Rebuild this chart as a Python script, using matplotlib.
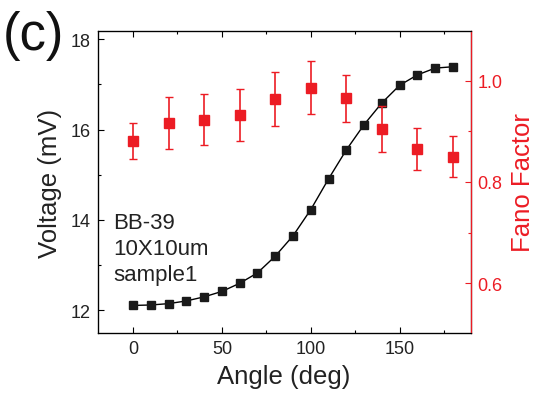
import matplotlib
matplotlib.use("Agg")
import matplotlib.pyplot as plt
from matplotlib.ticker import MultipleLocator

plt.rcParams['font.family'] = ['Liberation Sans', 'DejaVu Sans']

# Voltage vs angle
angle_v = [0, 10, 20, 30, 40, 50, 60, 70, 80, 90, 100, 110, 120, 130, 140, 150, 160, 170, 180]
voltage = [12.11, 12.12, 12.15, 12.21, 12.30, 12.42, 12.60, 12.83, 13.20, 13.65, 14.23,
           14.91, 15.55, 16.11, 16.59, 16.98, 17.21, 17.36, 17.39]

# Fano factor vs angle
angle_f = [0, 20, 40, 60, 80, 100, 120, 140, 160, 180]
fano = [0.881, 0.916, 0.923, 0.932, 0.964, 0.986, 0.965, 0.905, 0.865, 0.850]
fano_err = [0.036, 0.051, 0.050, 0.051, 0.053, 0.052, 0.047, 0.045, 0.042, 0.040]

x_ticks = [0, 50, 100, 150]
v_ticks = [12, 14, 16, 18]
f_ticks = [0.6, 0.8, 1.0]

RED = '#ec1c24'

fig = plt.figure(figsize=(5.4, 4.06), dpi=100)
ax = fig.add_axes([0.1806, 0.1773, 0.6911, 0.7438])

ax.plot(angle_v, voltage, color='black', lw=1.0, marker='s', ms=6,
        mfc='#1a1a1a', mec='#1a1a1a', zorder=3)
ax.set_xlim(-20, 190)
ax.set_ylim(11.5, 18.18)
ax.set_xticks(x_ticks)
ax.set_yticks(v_ticks)
ax.xaxis.set_minor_locator(MultipleLocator(25))
ax.yaxis.set_minor_locator(MultipleLocator(1))
ax.tick_params(which='both', direction='in', top=True, right=False,
               labelsize=13, pad=5, width=0.8, labelcolor='#222222')
ax.tick_params(which='major', length=4)
ax.tick_params(which='minor', length=2.5)
ax.set_xlabel('Angle (deg)', fontsize=18.5, labelpad=5, color='#222222')
ax.set_ylabel('Voltage (mV)', fontsize=18.5, labelpad=6, color='#222222')
for s in ax.spines.values():
    s.set_linewidth(0.9)

ax2 = ax.twinx()
ax2.errorbar(angle_f, fano, yerr=fano_err, fmt='s', color=RED, ms=6.5,
             ecolor=RED, elinewidth=1.2, capsize=3, capthick=1.0, zorder=4)
ax2.set_ylim(0.5015, 1.098)
ax2.set_yticks(f_ticks)
ax2.set_yticklabels(['0.6', '0.8', '1.0'])
ax2.yaxis.set_minor_locator(MultipleLocator(0.1))
ax2.tick_params(which='both', direction='in', colors=RED, labelsize=13,
                pad=5, width=0.8)
ax2.tick_params(which='major', length=4)
ax2.tick_params(which='minor', length=2.5)
ax2.spines['right'].set_color(RED)
ax2.spines['right'].set_linewidth(0.9)
ax2.set_ylabel('Fano Factor', fontsize=18.5, color=RED, labelpad=6)

ax.text(0.042, 0.40, 'BB-39\n10X10um\nsample1', transform=ax.transAxes,
        fontsize=16, va='top', ha='left', linespacing=1.3, color='#222222')

fig.text(0.006, 0.972, '(c)', fontsize=38, va='top', ha='left', color='#111111')

fig.savefig('out.png', dpi=100)
